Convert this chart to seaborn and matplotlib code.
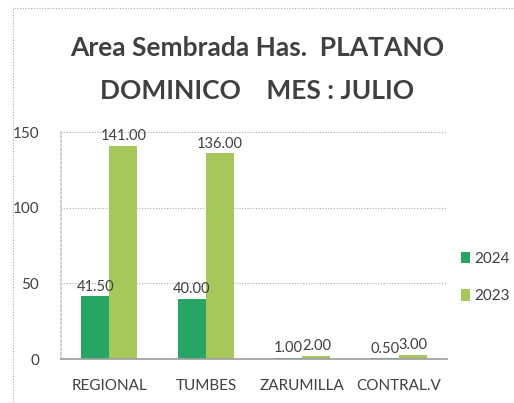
"""Area sembrada - platano dominico, julio."""
import matplotlib
matplotlib.use("Agg")
import matplotlib.pyplot as plt
import pandas as pd
import seaborn as sns
from matplotlib.patches import Rectangle

categories = ["REGIONAL", "TUMBES", "ZARUMILLA", "CONTRAL.V"]
years = ["2024", "2023"]
values_2024 = [41.5, 40.0, 1.0, 0.5]
values_2023 = [141.0, 136.0, 2.0, 3.0]
y_ticks = [0, 50, 100, 150]

df = pd.DataFrame({
    "zona": categories * 2,
    "anio": ["2024"] * len(categories) + ["2023"] * len(categories),
    "has": values_2024 + values_2023,
})

sns.set_theme(style="white")
plt.rcParams["font.family"] = ["Lato", "DejaVu Sans"]

fig = plt.figure(figsize=(5.14, 4.03), dpi=100)
ax = fig.add_axes([0.119, 0.109, 0.751, 0.563])

palette = {"2024": "#27a565", "2023": "#a6c85a"}
sns.barplot(data=df, x="zona", y="has", hue="anio", hue_order=years,
            order=categories, palette=palette, width=0.58, gap=0,
            saturation=1, linewidth=0, ax=ax)

for cont in ax.containers:
    ax.bar_label(cont, fmt="%.2f", padding=2, fontsize=10.5, color="#404040")

ax.set_ylim(0, 150)
ax.set_yticks(y_ticks)
ax.set_xlim(-0.5, len(categories) - 0.5)
ax.yaxis.grid(True, linestyle=(0, (1, 1.5)), color="#b0b0b0", linewidth=0.8)
ax.set_axisbelow(True)
for side in ["top", "right"]:
    ax.spines[side].set_visible(False)
ax.spines["left"].set_color("#c8c8c8")
ax.spines["left"].set_linestyle((0, (1, 1.5)))
ax.spines["bottom"].set_color("#a0a0a0")
ax.tick_params(axis="both", length=0, labelsize=11, colors="#404040")
ax.tick_params(axis="x", pad=14)
ax.tick_params(axis="y", pad=16)
ax.set_xlabel("")
ax.set_ylabel("")

ax.legend(loc="center left", bbox_to_anchor=(1.0, 0.36), frameon=False,
          fontsize=11, handlelength=0.6, handleheight=0.8, handletextpad=0.3,
          labelspacing=1.5, labelcolor="#404040")

fig.text(0.5, 0.88, "Area Sembrada Has.  PLATANO", ha="center", va="center",
         fontsize=19, fontweight="bold", color="#404040")
fig.text(0.5, 0.775, "DOMINICO    MES : JULIO", ha="center", va="center",
         fontsize=19, fontweight="bold", color="#404040")

fig.patches.append(Rectangle((0.025, -0.1), 1.1, 1.08, transform=fig.transFigure,
                             fill=False, edgecolor="#b0b0b0", linewidth=0.8,
                             linestyle=(0, (1, 1.5))))

fig.savefig("out.png", dpi=100)
